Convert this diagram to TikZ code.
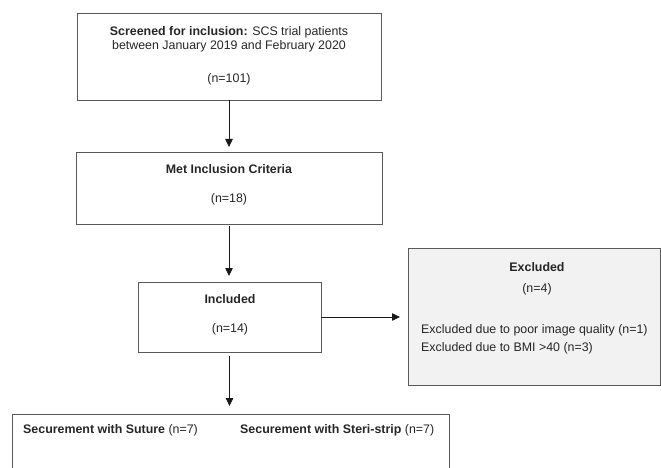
\documentclass[tikz,border=0pt]{standalone}
\usepackage{fontspec}
\setmainfont{Liberation Sans}
\usetikzlibrary{arrows.meta}

\begin{document}
\begin{tikzpicture}[x=1pt,y=-1pt,>={Triangle[length=8pt,width=7.5pt]},
  font=\fontsize{12.4}{14}\selectfont,
  flowbox/.style={draw=black!65,line width=0.9pt,inner sep=0pt,outer sep=0pt},
  boxtext/.style={inner sep=0pt,text=black!85,align=center},
  flowarrow/.style={->,line width=0.8pt,black!90}]
  \useasboundingbox (0,0) rectangle (661,468);
  \clip (0,0) rectangle (661,468);
  % the main column of boxes
  \node[flowbox,minimum width=304pt,minimum height=87pt] (screened) at (229,56.5) {};
  \node[boxtext] (screenedtxt) at (229,55.5)
    {\textbf{Screened for inclusion:} SCS trial patients\\between January 2019 and February 2020\\[19pt](n=101)};
  \node[flowbox,minimum width=306pt,minimum height=72pt] (met) at (229,188) {};
  \node[boxtext] (mettxt) at (229,184.5) {\textbf{Met Inclusion Criteria}\\[15pt](n=18)};
  \node[flowbox,minimum width=183pt,minimum height=70pt] (included) at (229.5,317) {};
  \node[boxtext] (includedtxt) at (230,314.5) {\textbf{Included}\\[15pt](n=14)};
  % the excluded patients, in grey
  \node[flowbox,fill=black!5,minimum width=252pt,minimum height=137pt] (excluded) at (534,316.5) {};
  \node[boxtext] (excludedtxt) at (537,267) {\textbf{Excluded}};
  \node[boxtext] (excludedn) at (537,289) {(n=4)};
  \node[boxtext,anchor=west] (poorimage) at (421,330) {Excluded due to poor image quality (n=1)};
  \node[boxtext,anchor=west] (bmi) at (421,348) {Excluded due to BMI >40 (n=3)};
  % the two arms, box runs past the bottom edge
  \node[flowbox,minimum width=437pt,minimum height=66pt] (arms) at (230.5,447) {};
  \node[boxtext,anchor=west] (suture) at (23,430) {\textbf{Securement with Suture} (n=7)};
  \node[boxtext,anchor=west] (steri) at (240,430) {\textbf{Securement with Steri-strip} (n=7)};
  % connectors
  \draw[flowarrow,shorten >=5pt] (screened.south) -- (screened.south |- met.north);
  \draw[flowarrow,shorten <=2pt,shorten >=6pt] (met.south) -- (met.south |- included.north);
  \draw[flowarrow,shorten >=8pt] (included.east) -- (included.east -| excluded.west);
  \draw[flowarrow,shorten <=4pt,shorten >=8pt] (included.south) -- (included.south |- arms.north);
\end{tikzpicture}
\end{document}
